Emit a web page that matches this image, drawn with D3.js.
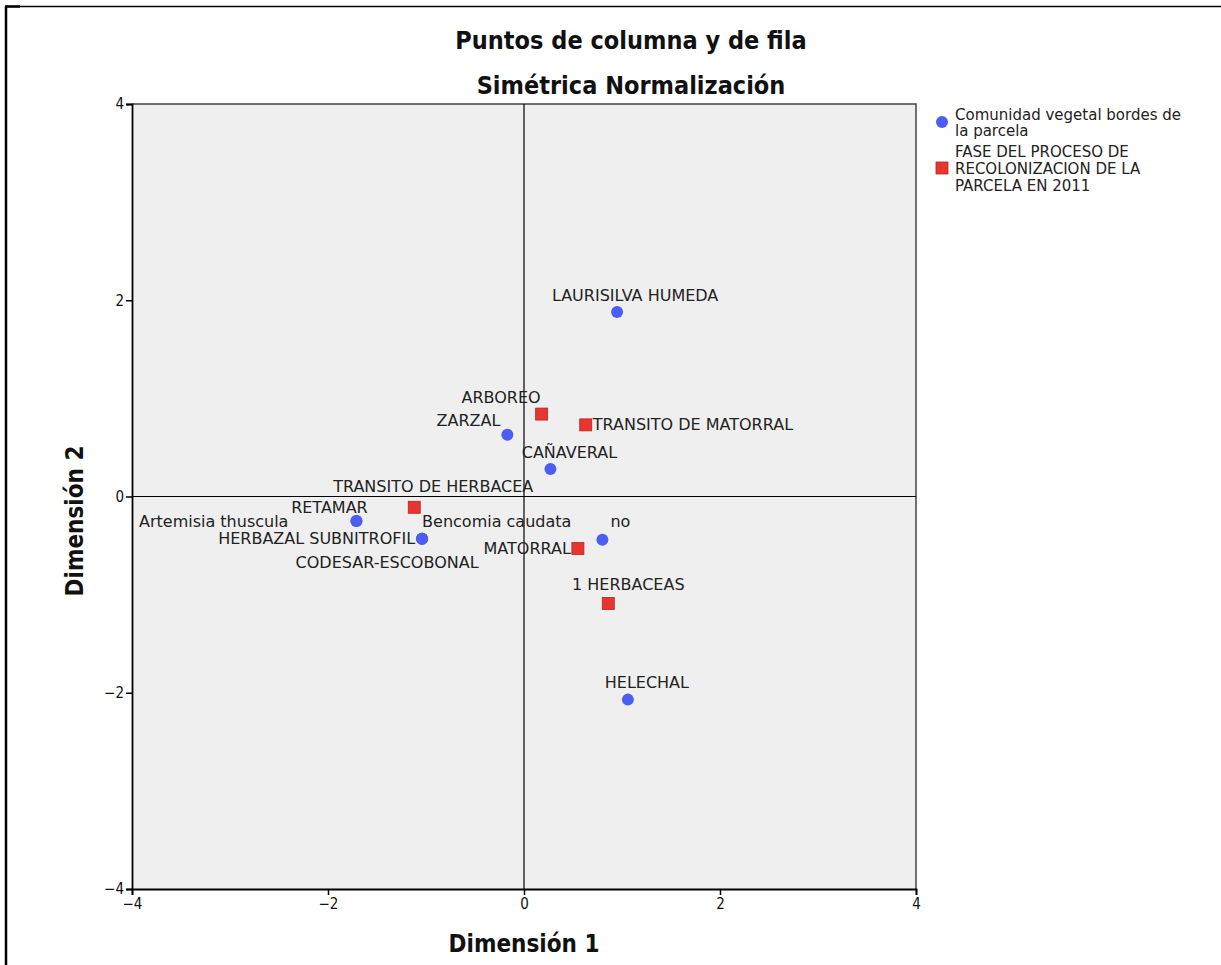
<!DOCTYPE html>
<html>
<head>
<meta charset="utf-8">
<script src="https://cdn.jsdelivr.net/npm/d3@7"></script>
<style>
  html, body { margin: 0; padding: 0; background: #fff; }
  svg { display: block; }
</style>
</head>
<body>
<script>
// ---- DATA ----
const rowLabels = ["LAURISILVA HUMEDA", "ZARZAL", "CAÑAVERAL", "Artemisia thuscula", "RETAMAR",
  "Bencomia caudata", "HERBAZAL SUBNITROFIL", "CODESAR-ESCOBONAL", "no", "HELECHAL"];
const rowDim1 = [0.95, -0.17, 0.27, -1.71, -1.71, -1.04, -1.04, -1.04, 0.80, 1.06];
const rowDim2 = [1.88, 0.63, 0.28, -0.25, -0.25, -0.43, -0.43, -0.43, -0.44, -2.07];

const colLabels = ["ARBOREO", "TRANSITO DE MATORRAL", "TRANSITO DE HERBACEA", "MATORRAL", "1 HERBACEAS"];
const colDim1 = [0.18, 0.63, -1.12, 0.55, 0.86];
const colDim2 = [0.84, 0.73, -0.11, -0.53, -1.09];

const xTicks = [-4, -2, 0, 2, 4];
const yTicks = [-4, -2, 0, 2, 4];

const titleLines = ["Puntos de columna y de fila", "Simétrica Normalización"];
const xTitle = "Dimensión 1";
const yTitle = "Dimensión 2";
const legendRow = ["Comunidad vegetal bordes de", "la parcela"];
const legendCol = ["FASE DEL PROCESO DE", "RECOLONIZACION DE LA", "PARCELA EN 2011"];

// ---- LAYOUT (label placement, not data) ----
const labelPlace = {
  "LAURISILVA HUMEDA": {dx: 18, dy: -17, a: "middle"},
  "ZARZAL": {dx: -7, dy: -14, a: "end"},
  "CAÑAVERAL": {dx: 19, dy: -17, a: "middle"},
  "Artemisia thuscula": {dx: -68, dy: 0, a: "end"},
  "RETAMAR": {dx: -27, dy: -14, a: "middle"},
  "Bencomia caudata": {dx: 0, dy: -17, a: "start"},
  "HERBAZAL SUBNITROFIL": {dx: -7, dy: 0, a: "end"},
  "CODESAR-ESCOBONAL": {dx: -35, dy: 24, a: "middle"},
  "no": {dx: 18, dy: -18, a: "middle"},
  "HELECHAL": {dx: 19, dy: -17, a: "middle"},
  "ARBOREO": {dx: -1, dy: -17, a: "end"},
  "TRANSITO DE MATORRAL": {dx: 7, dy: 0, a: "start"},
  "TRANSITO DE HERBACEA": {dx: 19, dy: -21, a: "middle"},
  "MATORRAL": {dx: -7, dy: 0, a: "end"},
  "1 HERBACEAS": {dx: 20, dy: -19, a: "middle"}
};

const W = 1221, H = 965;
const plot = {left: 132, right: 916, top: 104, bottom: 889};
const blue = "#4c5df2", red = "#e8352f", redStroke = "#b8241f";
const labelFont = "'DejaVu Sans', sans-serif";
const condFont = "'DejaVu Sans Condensed', 'DejaVu Sans', sans-serif";
const labelSize = 16;

const svg = d3.select("body").append("svg").attr("width", W).attr("height", H);

// outer frame
svg.append("line").attr("x1", 5).attr("x2", W).attr("y1", 6.5).attr("y2", 6.5).attr("stroke", "#000").attr("stroke-width", 1.5);
svg.append("line").attr("x1", 6).attr("x2", 6).attr("y1", 6).attr("y2", H).attr("stroke", "#000").attr("stroke-width", 2.5);
svg.append("line").attr("x1", 5).attr("x2", 20).attr("y1", 6.5).attr("y2", 6.5).attr("stroke", "#000").attr("stroke-width", 2.5);

const x = d3.scaleLinear().domain([-4, 4]).range([plot.left, plot.right]);
const y = d3.scaleLinear().domain([-4, 4]).range([plot.bottom, plot.top]);

// plot background
svg.append("rect").attr("x", plot.left).attr("y", plot.top)
  .attr("width", plot.right - plot.left).attr("height", plot.bottom - plot.top)
  .attr("fill", "#efefef");
// top and right border
svg.append("path").attr("d", `M${plot.left},${plot.top}H${plot.right}V${plot.bottom}`)
  .attr("fill", "none").attr("stroke", "#444").attr("stroke-width", 1.5);

// reference lines
svg.append("line").attr("x1", x(0)).attr("x2", x(0)).attr("y1", plot.top).attr("y2", plot.bottom)
  .attr("stroke", "#000").attr("stroke-width", 1.2);
svg.append("line").attr("x1", plot.left).attr("x2", plot.right).attr("y1", y(0)).attr("y2", y(0))
  .attr("stroke", "#000").attr("stroke-width", 1.2);

// axes
const fmt = d => d < 0 ? "−" + Math.abs(d) : d;
const xAxis = svg.append("g").attr("transform", `translate(0,${plot.bottom})`)
  .call(d3.axisBottom(x).tickValues(xTicks).tickSize(6).tickPadding(3).tickFormat(fmt));
const yAxis = svg.append("g").attr("transform", `translate(${plot.left},0)`)
  .call(d3.axisLeft(y).tickValues(yTicks).tickSize(6).tickPadding(2).tickFormat(fmt));
[xAxis, yAxis].forEach(g => {
  g.select(".domain").attr("stroke", "#000").attr("stroke-width", 1.8);
  g.selectAll(".tick line").attr("stroke", "#000").attr("stroke-width", 1.5);
  g.selectAll(".tick text").attr("font-family", condFont).attr("font-size", 15).attr("fill", "#111");
});

// row points (circles)
const rows = rowLabels.map((l, i) => ({label: l, d1: rowDim1[i], d2: rowDim2[i]}));
const cols = colLabels.map((l, i) => ({label: l, d1: colDim1[i], d2: colDim2[i]}));

svg.append("g").selectAll("circle").data(rows).join("circle")
  .attr("cx", d => x(d.d1)).attr("cy", d => y(d.d2)).attr("r", 6)
  .attr("fill", blue);

svg.append("g").selectAll("rect").data(cols).join("rect")
  .attr("x", d => x(d.d1) - 6).attr("y", d => y(d.d2) - 6)
  .attr("width", 12).attr("height", 12)
  .attr("fill", red).attr("stroke", redStroke).attr("stroke-width", 0.8);

// labels
svg.append("g").selectAll("text").data(rows.concat(cols)).join("text")
  .attr("x", d => x(d.d1) + labelPlace[d.label].dx)
  .attr("y", d => y(d.d2) + labelPlace[d.label].dy)
  .attr("dy", "0.35em")
  .attr("text-anchor", d => labelPlace[d.label].a)
  .attr("font-family", labelFont).attr("font-size", labelSize).attr("fill", "#222")
  .text(d => d.label);

// titles
svg.append("g").selectAll("text").data(titleLines).join("text")
  .attr("x", 631).attr("y", (d, i) => 40 + i * 45).attr("dy", "0.35em")
  .attr("text-anchor", "middle")
  .attr("font-family", condFont).attr("font-weight", "bold").attr("font-size", 25).attr("fill", "#111")
  .text(d => d);

svg.append("text").attr("x", x(0)).attr("y", 944).attr("dy", "0.35em")
  .attr("text-anchor", "middle")
  .attr("font-family", condFont).attr("font-weight", "bold").attr("font-size", 24).attr("fill", "#111")
  .text(xTitle);
svg.append("text").attr("transform", `translate(75,521) rotate(-90)`).attr("dy", "0.35em")
  .attr("text-anchor", "middle")
  .attr("font-family", condFont).attr("font-weight", "bold").attr("font-size", 24).attr("fill", "#111")
  .text(yTitle);

// legend
const lg = svg.append("g");
lg.append("circle").attr("cx", 942).attr("cy", 122).attr("r", 6).attr("fill", blue);
lg.append("rect").attr("x", 936).attr("y", 162).attr("width", 12).attr("height", 12)
  .attr("fill", red).attr("stroke", redStroke).attr("stroke-width", 0.8);
lg.selectAll("text.r").data(legendRow).join("text").attr("class", "r")
  .attr("x", 955).attr("y", (d, i) => 115 + i * 16).attr("dy", "0.35em")
  .attr("font-family", labelFont).attr("font-size", 15).attr("fill", "#222").text(d => d);
lg.selectAll("text.c").data(legendCol).join("text").attr("class", "c")
  .attr("x", 955).attr("y", (d, i) => 152 + i * 17).attr("dy", "0.35em")
  .attr("font-family", labelFont).attr("font-size", 15).attr("fill", "#222").text(d => d);
</script>
</body>
</html>
